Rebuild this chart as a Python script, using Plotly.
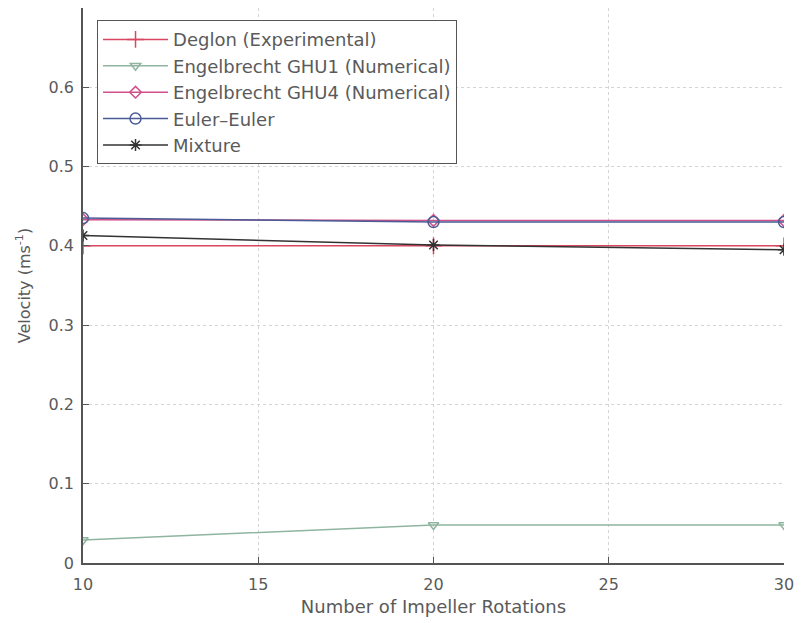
import plotly.graph_objects as go

# Impeller rotations at which velocities were sampled
rotations = [10, 20, 30]

# Mean velocities (m/s) per data set
deglon_exp = [0.400, 0.400, 0.400]
engelbrecht_ghu1 = [0.029, 0.048, 0.048]
engelbrecht_ghu4 = [0.433, 0.432, 0.432]
euler_euler = [0.435, 0.430, 0.430]
mixture = [0.413, 0.401, 0.395]

series_names = [
    "Deglon (Experimental)",
    "Engelbrecht GHU1 (Numerical)",
    "Engelbrecht GHU4 (Numerical)",
    "Euler\u2013Euler",
    "Mixture",
]

x_ticks = [10, 15, 20, 25, 30]
y_ticks = [0, 0.1, 0.2, 0.3, 0.4, 0.5, 0.6]
y_tick_text = ["0", "0.1", "0.2", "0.3", "0.4", "0.5", "0.6"]

styles = [
    dict(color="#d8475f", symbol="cross-thin-open", size=12),
    dict(color="#8fb5a0", symbol="triangle-down-open", size=9),
    dict(color="#d0508a", symbol="diamond-open", size=9),
    dict(color="#4a5c96", symbol="circle-open", size=11),
    dict(color="#333333", symbol="asterisk-open", size=10),
]

values = [deglon_exp, engelbrecht_ghu1, engelbrecht_ghu4, euler_euler, mixture]

fig = go.Figure()
for name, vals, st in zip(series_names, values, styles):
    fig.add_trace(go.Scatter(
        x=rotations, y=vals, name=name, mode="lines+markers",
        line=dict(color=st["color"], width=1.5),
        marker=dict(symbol=st["symbol"], size=st["size"],
                    color=st["color"], line=dict(color=st["color"], width=1.5)),
    ))

text_color = "#5a5a5a"
grid_color = "#d4d4d4"

fig.update_layout(
    width=802, height=623,
    margin=dict(l=83, r=14, t=8, b=60),
    paper_bgcolor="white", plot_bgcolor="white",
    font=dict(family="DejaVu Sans", size=16, color=text_color),
    showlegend=True,
    legend=dict(
        x=0.02, y=0.978, xanchor="left", yanchor="top",
        bgcolor="white", bordercolor="#555555", borderwidth=1,
        font=dict(family="DejaVu Sans", size=18, color=text_color),
        itemwidth=65,
    ),
    xaxis=dict(
        range=[10, 30], tickvals=x_ticks, ticks="inside", ticklen=6,
        tickcolor="#555555", showline=True, linecolor="#555555", linewidth=1.5,
        showgrid=True, gridcolor=grid_color, griddash="dot", gridwidth=1,
        zeroline=False, ticklabelstandoff=6,
        tickfont=dict(family="DejaVu Sans", size=16, color=text_color),
        title=dict(text="Number of Impeller Rotations", standoff=7,
                   font=dict(family="DejaVu Sans", size=18, color=text_color)),
    ),
    yaxis=dict(
        range=[0, 0.7], tickvals=y_ticks, ticktext=y_tick_text,
        ticks="inside", ticklen=6, tickcolor="#555555",
        showline=True, linecolor="#555555", linewidth=1.5,
        showgrid=True, gridcolor=grid_color, griddash="dot", gridwidth=1,
        zeroline=False, ticklabelstandoff=4,
        tickfont=dict(family="DejaVu Sans", size=16, color=text_color),
        title=dict(text="Velocity (ms<sup>-1</sup>)", standoff=14,
                   font=dict(family="DejaVu Sans", size=16, color=text_color)),
    ),
)

fig.write_html("out.html")
